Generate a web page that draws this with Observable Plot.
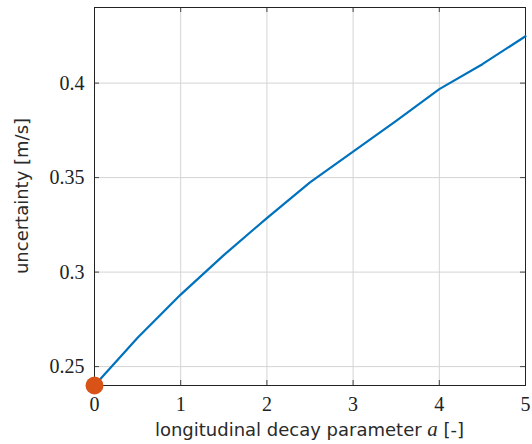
<!DOCTYPE html>
<html>
<head>
<meta charset="utf-8">
<script src="https://cdn.jsdelivr.net/npm/d3@7"></script>
<script src="https://cdn.jsdelivr.net/npm/@observablehq/plot@0.6"></script>
<style>
  html, body { margin: 0; padding: 0; background: #fff; }
  #chart svg { display: block; }
</style>
</head>
<body>
<div id="chart"></div>
<script>
// data
const decayA = [0, 0.5, 1, 1.5, 2, 2.5, 3, 3.5, 4, 4.5, 5];
const uncertainty = [0.240, 0.2653, 0.2881, 0.3090, 0.3286, 0.3475, 0.3637, 0.3800, 0.3968, 0.4100, 0.4248];
const markerPoint = [{a: 0, u: 0.240}];
const xTicks = [0, 1, 2, 3, 4, 5];
const yTicks = [0.25, 0.3, 0.35, 0.4];
const xLabel = "longitudinal decay parameter ";
const xLabelVar = "a";
const xLabelUnit = " [-]";
const yLabel = "uncertainty [m/s]";

const rows = decayA.map((a, i) => ({a, u: uncertainty[i]}));

const W = 532, H = 444;
const mL = 94, mR = 7, mT = 7, mB = 59;
const pw = W - mL - mR, ph = H - mT - mB;
const tick = 5;
const gridColor = "#d4d4d4";
const tickColor = "#444";

const plot = Plot.plot({
  width: W, height: H,
  marginLeft: mL, marginRight: mR, marginTop: mT, marginBottom: mB,
  style: {background: "#fff", fontFamily: "'Liberation Serif', serif", fontSize: "19px", color: "#222"},
  x: {domain: [0, 5], ticks: xTicks, label: null},
  y: {domain: [0.24, 0.44], ticks: yTicks, label: null},
  marks: [
    Plot.gridX(xTicks, {stroke: gridColor, strokeOpacity: 1, strokeWidth: 1}),
    Plot.gridY(yTicks, {stroke: gridColor, strokeOpacity: 1, strokeWidth: 1}),
    // inward ticks on all four sides
    Plot.ruleX(xTicks, {x: d => d, insetTop: ph - tick, stroke: tickColor}),
    Plot.ruleX(xTicks, {x: d => d, insetBottom: ph - tick, stroke: tickColor}),
    Plot.ruleY(yTicks, {y: d => d, insetRight: pw - tick, stroke: tickColor}),
    Plot.ruleY(yTicks, {y: d => d, insetLeft: pw - tick, stroke: tickColor}),
    Plot.frame({stroke: "#222", strokeWidth: 1}),
    Plot.axisX(xTicks, {tickSize: 0, tickPadding: 11, tickFormat: d => String(d), fontSize: 20}),
    Plot.axisY(yTicks, {tickSize: 0, tickPadding: 10, tickFormat: d => String(+d.toFixed(2)), fontSize: 20}),
    Plot.line(rows, {x: "a", y: "u", stroke: "#0072BD", strokeWidth: 2.2, clip: false}),
    Plot.dot(markerPoint, {x: "a", y: "u", r: 9, fill: "#D95319", stroke: "none"})
  ]
});
document.getElementById("chart").appendChild(plot);

// axis titles
const svg = d3.select(plot);
const xs = plot.scale("x"), ys = plot.scale("y");
const cx = (xs.range[0] + xs.range[1]) / 2;
const cy = (ys.range[0] + ys.range[1]) / 2;
const xt = svg.append("text")
  .attr("x", cx).attr("y", 436)
  .attr("text-anchor", "middle")
  .attr("font-family", "'DejaVu Sans', sans-serif")
  .attr("font-size", 18)
  .attr("fill", "#2a2a2a");
xt.append("tspan").text(xLabel);
xt.append("tspan").text(xLabelVar).attr("font-family", "'Liberation Serif', serif").attr("font-style", "italic").attr("font-size", 21);
xt.append("tspan").text(xLabelUnit);

svg.append("text")
  .attr("transform", `translate(28,${cy}) rotate(-90)`)
  .attr("text-anchor", "middle")
  .attr("font-family", "'DejaVu Sans', sans-serif")
  .attr("font-size", 18)
  .attr("fill", "#2a2a2a")
  .text(yLabel);
</script>
</body>
</html>
